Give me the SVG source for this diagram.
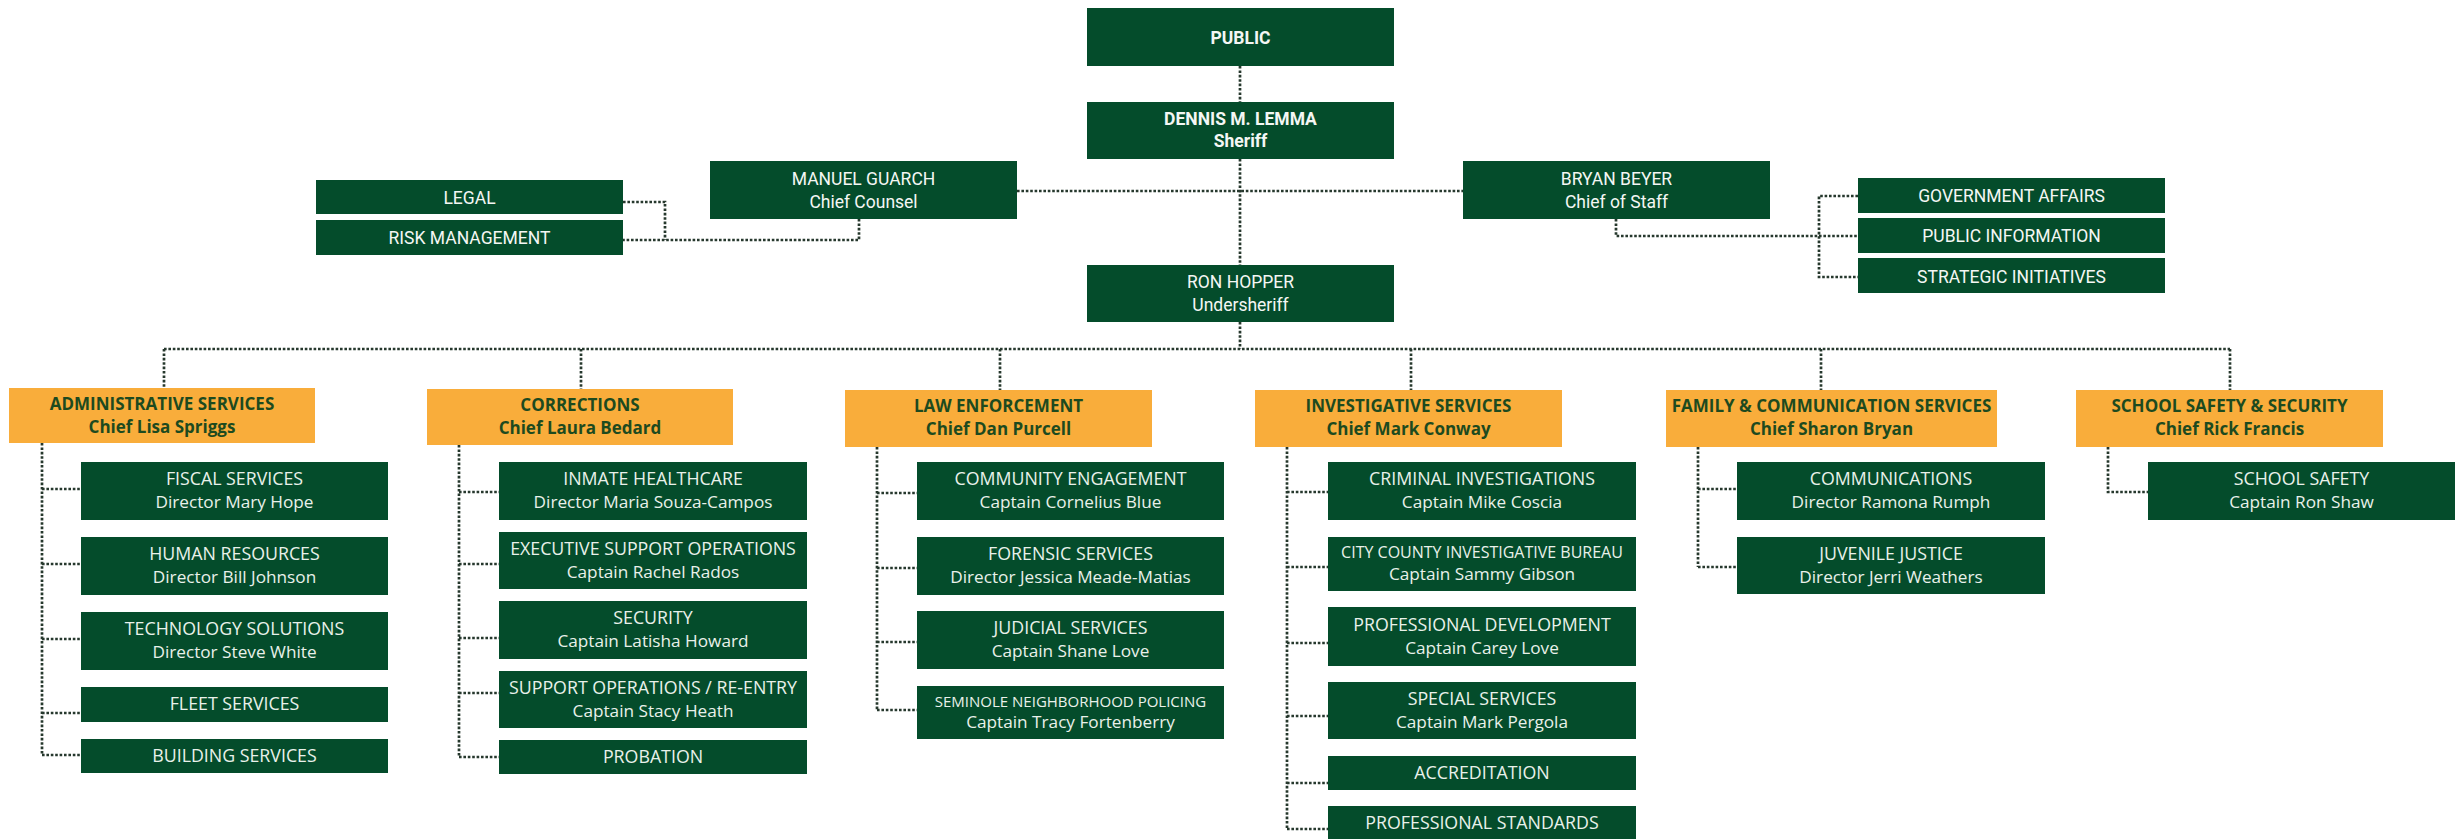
<svg xmlns="http://www.w3.org/2000/svg" width="2455" height="839" viewBox="0 0 2455 839">
<style>
.g{fill:#044c2b}
.o{fill:#f9ad3b}
.t{font-family:Roboto,"Liberation Sans",sans-serif;font-size:17.5px;fill:#f4f7f4;text-anchor:middle}
.tb{font-weight:bold}
.s{font-family:"Open Sans","Noto Sans",sans-serif;font-size:17.2px;fill:#e9f1ea;text-anchor:middle}
.u{font-size:17.8px}
.h{font-family:"Open Sans","Noto Sans",sans-serif;font-size:17px;font-weight:bold;fill:#1d4a1f;text-anchor:middle}
.c{fill:none;stroke:#26382d;stroke-width:2.7;stroke-dasharray:2.6 1.8}
</style>
<rect width="2455" height="839" fill="#ffffff"/>
<g id="connectors" class="c">
<path d="M1240 66V102M1240 159V265M1017 191H1463M1240 322V349M164 349H2230"/>
<path d="M164 349V388M581 349V389M1000 349V390M1411 349V390M1821 349V390M2230 349V390"/>
<path d="M859 219V240H623M623 202H665V240"/>
<path d="M1616 219V236H1858M1858 196H1819V277H1858"/>
<path d="M42 443V755M42 489H81M42 564H81M42 639H81M42 713H81M42 755H81"/>
<path d="M459 445V757M459 492H499M459 564H499M459 638H499M459 693H499M459 757H499"/>
<path d="M877 447V710M877 493H917M877 568H917M877 642H917M877 710H917"/>
<path d="M1287 447V829M1287 492H1328M1287 567H1328M1287 643H1328M1287 716H1328M1287 783H1328M1287 829H1328"/>
<path d="M1698 447V567M1698 489H1737M1698 567H1737"/>
<path d="M2108 447V492H2148"/>
</g>
<g id="public"><rect class="g" x="1087" y="8" width="307" height="58"/><text class="t tb" x="1240.5" y="44">PUBLIC</text></g>
<g id="sheriff"><rect class="g" x="1087" y="102" width="307" height="57"/><text class="t tb" x="1240.5" y="125">DENNIS M. LEMMA</text><text class="t tb" x="1240.5" y="147">Sheriff</text></g>
<g id="chief-counsel"><rect class="g" x="710" y="161" width="307" height="58"/><text class="t" x="863.5" y="185">MANUEL GUARCH</text><text class="t" x="863.5" y="208">Chief Counsel</text></g>
<g id="chief-of-staff"><rect class="g" x="1463" y="161" width="307" height="58"/><text class="t" x="1616.5" y="185">BRYAN BEYER</text><text class="t" x="1616.5" y="208">Chief of Staff</text></g>
<g id="undersheriff"><rect class="g" x="1087" y="265" width="307" height="57"/><text class="t" x="1240.5" y="288">RON HOPPER</text><text class="t" x="1240.5" y="311">Undersheriff</text></g>
<g id="legal"><rect class="g" x="316" y="180" width="307" height="34"/><text class="t" x="469.5" y="204">LEGAL</text></g>
<g id="risk"><rect class="g" x="316" y="220" width="307" height="35"/><text class="t" x="469.5" y="244">RISK MANAGEMENT</text></g>
<g id="gov-affairs"><rect class="g" x="1858" y="178" width="307" height="35"/><text class="t" x="2011.5" y="202">GOVERNMENT AFFAIRS</text></g>
<g id="public-info"><rect class="g" x="1858" y="218" width="307" height="35"/><text class="t" x="2011.5" y="242">PUBLIC INFORMATION</text></g>
<g id="strategic"><rect class="g" x="1858" y="258" width="307" height="35"/><text class="t" x="2011.5" y="283">STRATEGIC INITIATIVES</text></g>

<g id="admin"><rect class="o" x="9" y="388" width="306" height="55"/><text class="h" x="162" y="410">ADMINISTRATIVE SERVICES</text><text class="h" x="162" y="433">Chief Lisa Spriggs</text></g>
<g id="corrections"><rect class="o" x="427" y="389" width="306" height="56"/><text class="h" x="580" y="411">CORRECTIONS</text><text class="h" x="580" y="434">Chief Laura Bedard</text></g>
<g id="law"><rect class="o" x="845" y="390" width="307" height="57"/><text class="h" x="998.5" y="412">LAW ENFORCEMENT</text><text class="h" x="998.5" y="435">Chief Dan Purcell</text></g>
<g id="investigative"><rect class="o" x="1255" y="390" width="307" height="57"/><text class="h" x="1408.5" y="412">INVESTIGATIVE SERVICES</text><text class="h" x="1408.5" y="435">Chief Mark Conway</text></g>
<g id="family"><rect class="o" x="1666" y="390" width="331" height="57"/><text class="h" x="1831.5" y="412">FAMILY &amp; COMMUNICATION SERVICES</text><text class="h" x="1831.5" y="435">Chief Sharon Bryan</text></g>
<g id="school"><rect class="o" x="2076" y="390" width="307" height="57"/><text class="h" x="2229.5" y="412">SCHOOL SAFETY &amp; SECURITY</text><text class="h" x="2229.5" y="435">Chief Rick Francis</text></g>

<g id="fiscal"><rect class="g" x="81" y="462" width="307" height="58"/><text class="s u" x="234.5" y="485">FISCAL SERVICES</text><text class="s" x="234.5" y="508">Director Mary Hope</text></g>
<g id="hr"><rect class="g" x="81" y="537" width="307" height="58"/><text class="s u" x="234.5" y="560">HUMAN RESOURCES</text><text class="s" x="234.5" y="583">Director Bill Johnson</text></g>
<g id="tech"><rect class="g" x="81" y="612" width="307" height="58"/><text class="s u" x="234.5" y="635">TECHNOLOGY SOLUTIONS</text><text class="s" x="234.5" y="658">Director Steve White</text></g>
<g id="fleet"><rect class="g" x="81" y="687" width="307" height="35"/><text class="s u" x="234.5" y="710">FLEET SERVICES</text></g>
<g id="building"><rect class="g" x="81" y="739" width="307" height="34"/><text class="s u" x="234.5" y="762">BUILDING SERVICES</text></g>

<g id="inmate"><rect class="g" x="499" y="462" width="308" height="58"/><text class="s u" x="653" y="485">INMATE HEALTHCARE</text><text class="s" x="653" y="508">Director Maria Souza-Campos</text></g>
<g id="exec-support"><rect class="g" x="499" y="532" width="308" height="57"/><text class="s u" x="653" y="555">EXECUTIVE SUPPORT OPERATIONS</text><text class="s" x="653" y="578">Captain Rachel Rados</text></g>
<g id="security"><rect class="g" x="499" y="601" width="308" height="58"/><text class="s u" x="653" y="624">SECURITY</text><text class="s" x="653" y="647">Captain Latisha Howard</text></g>
<g id="support-ops"><rect class="g" x="499" y="671" width="308" height="57"/><text class="s u" x="653" y="694">SUPPORT OPERATIONS / RE-ENTRY</text><text class="s" x="653" y="717">Captain Stacy Heath</text></g>
<g id="probation"><rect class="g" x="499" y="740" width="308" height="34"/><text class="s u" x="653" y="763">PROBATION</text></g>

<g id="community"><rect class="g" x="917" y="462" width="307" height="58"/><text class="s u" x="1070.5" y="485">COMMUNITY ENGAGEMENT</text><text class="s" x="1070.5" y="508">Captain Cornelius Blue</text></g>
<g id="forensic"><rect class="g" x="917" y="537" width="307" height="58"/><text class="s u" x="1070.5" y="560">FORENSIC SERVICES</text><text class="s" x="1070.5" y="583">Director Jessica Meade-Matias</text></g>
<g id="judicial"><rect class="g" x="917" y="611" width="307" height="58"/><text class="s u" x="1070.5" y="634">JUDICIAL SERVICES</text><text class="s" x="1070.5" y="657">Captain Shane Love</text></g>
<g id="seminole"><rect class="g" x="917" y="686" width="307" height="53"/><text class="s" x="1070.5" y="707" style="font-size:15px">SEMINOLE NEIGHBORHOOD POLICING</text><text class="s" x="1070.5" y="728">Captain Tracy Fortenberry</text></g>

<g id="criminal"><rect class="g" x="1328" y="462" width="308" height="58"/><text class="s u" x="1482" y="485">CRIMINAL INVESTIGATIONS</text><text class="s" x="1482" y="508">Captain Mike Coscia</text></g>
<g id="city-county"><rect class="g" x="1328" y="537" width="308" height="54"/><text class="s" x="1482" y="558" style="font-size:16px">CITY COUNTY INVESTIGATIVE BUREAU</text><text class="s" x="1482" y="580">Captain Sammy Gibson</text></g>
<g id="prof-dev"><rect class="g" x="1328" y="607" width="308" height="59"/><text class="s u" x="1482" y="631">PROFESSIONAL DEVELOPMENT</text><text class="s" x="1482" y="654">Captain Carey Love</text></g>
<g id="special"><rect class="g" x="1328" y="682" width="308" height="57"/><text class="s u" x="1482" y="705">SPECIAL SERVICES</text><text class="s" x="1482" y="728">Captain Mark Pergola</text></g>
<g id="accreditation"><rect class="g" x="1328" y="756" width="308" height="34"/><text class="s u" x="1482" y="779">ACCREDITATION</text></g>
<g id="prof-standards"><rect class="g" x="1328" y="806" width="308" height="36"/><text class="s u" x="1482" y="829">PROFESSIONAL STANDARDS</text></g>

<g id="communications"><rect class="g" x="1737" y="462" width="308" height="58"/><text class="s u" x="1891" y="485">COMMUNICATIONS</text><text class="s" x="1891" y="508">Director Ramona Rumph</text></g>
<g id="juvenile"><rect class="g" x="1737" y="537" width="308" height="57"/><text class="s u" x="1891" y="560">JUVENILE JUSTICE</text><text class="s" x="1891" y="583">Director Jerri Weathers</text></g>

<g id="school-safety"><rect class="g" x="2148" y="462" width="307" height="58"/><text class="s u" x="2301.5" y="485">SCHOOL SAFETY</text><text class="s" x="2301.5" y="508">Captain Ron Shaw</text></g>
</svg>
